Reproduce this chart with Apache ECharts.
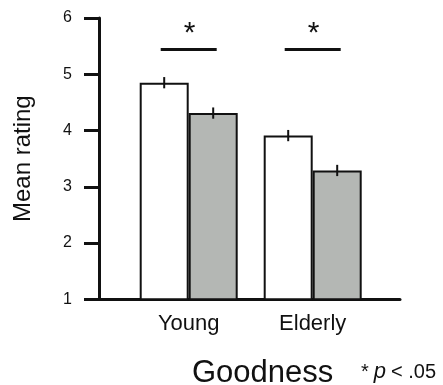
<!DOCTYPE html>
<html>
<head>
<meta charset="utf-8">
<script src="https://cdn.jsdelivr.net/npm/echarts@6/dist/echarts.min.js"></script>
<style>html,body{margin:0;padding:0;background:#fff;}#c{width:443px;height:385px;}</style>
</head>
<body>
<div id="c"></div>
<script>
var categories = ['Young', 'Elderly'];
var whiteValues = [4.85, 3.91];
var greyValues = [4.31, 3.29];
var whiteErrors = [0.1, 0.1];
var greyErrors = [0.1, 0.1];
var sigLevel = [5.44, 5.44];
var starLevel = [5.72, 5.72];
var yTicks = [1, 2, 3, 4, 5, 6];

var FONT = 'Liberation Sans';
var BAR_W = 49;
var INK = '#111';

var chart = echarts.init(document.getElementById('c'));

function errItem(errs, side) {
  return function (params, api) {
    var i = api.value(0);
    var v = api.value(1);
    var e = errs[params.dataIndex];
    var top = api.coord([i, v + e]);
    var bot = api.coord([i, v - e]);
    var dx = side * BAR_W / 2;
    return {
      type: 'line',
      shape: { x1: top[0] + dx, y1: top[1], x2: bot[0] + dx, y2: bot[1] },
      style: { stroke: INK, lineWidth: 2 }
    };
  };
}

var option = {
  animation: false,
  backgroundColor: '#fff',
  textStyle: { fontFamily: FONT },
  grid: [
    { left: 99, right: 43, top: 18, bottom: 85.7 },
    { left: 126.7, right: 68.3, top: 18, bottom: 85.7 }
  ],
  xAxis: [
    {
      gridIndex: 0, type: 'value', min: 0, max: 1,
      axisLine: { show: true, onZero: false, lineStyle: { color: INK, width: 3 } },
      axisTick: { show: false }, axisLabel: { show: false }, splitLine: { show: false }
    },
    {
      gridIndex: 1, type: 'category', data: categories,
      axisLine: { show: false }, axisTick: { show: false }, splitLine: { show: false },
      axisLabel: { fontSize: 22, color: '#111', margin: 14, fontFamily: FONT }
    }
  ],
  yAxis: [
    {
      gridIndex: 0, type: 'value', min: yTicks[0], max: yTicks[yTicks.length - 1], interval: 1,
      name: 'Mean rating', nameLocation: 'middle', nameGap: 64,
      nameTextStyle: { fontSize: 24, color: '#111', fontFamily: FONT },
      axisLine: { show: true, lineStyle: { color: INK, width: 3 } },
      axisTick: { show: true, length: 15, lineStyle: { color: INK, width: 3 } },
      axisLabel: { fontSize: 16, color: '#111', margin: 27, fontFamily: FONT },
      splitLine: { show: false }
    },
    {
      gridIndex: 1, type: 'value', min: yTicks[0], max: yTicks[yTicks.length - 1], interval: 1,
      show: false
    }
  ],
  title: [
    { text: 'Goodness', left: 192, top: 358, padding: 0, textStyle: { fontSize: 31, fontWeight: 'normal', color: '#111', fontFamily: FONT } },
    {
      text: '{a|*} {b|p} {a|< .05}', left: 361, top: 361, padding: 0,
      textStyle: {
        fontWeight: 'normal',
        rich: {
          a: { fontSize: 20, color: '#111', fontWeight: 'normal', fontFamily: FONT },
          b: { fontSize: 22, color: '#111', fontWeight: 'normal', fontStyle: 'italic', fontFamily: FONT }
        }
      }
    }
  ],
  series: [
    {
      type: 'bar', xAxisIndex: 1, yAxisIndex: 1, data: whiteValues,
      barWidth: BAR_W, barGap: '0%',
      itemStyle: { color: '#ffffff', borderColor: INK, borderWidth: 2 }
    },
    {
      type: 'bar', xAxisIndex: 1, yAxisIndex: 1, data: greyValues,
      barWidth: BAR_W, barGap: '0%',
      itemStyle: { color: '#b4b7b4', borderColor: INK, borderWidth: 2 }
    },
    {
      type: 'custom', xAxisIndex: 1, yAxisIndex: 1,
      data: whiteValues.map(function (v, i) { return [i, v]; }),
      renderItem: errItem(whiteErrors, -1), z: 5
    },
    {
      type: 'custom', xAxisIndex: 1, yAxisIndex: 1,
      data: greyValues.map(function (v, i) { return [i, v]; }),
      renderItem: errItem(greyErrors, 1), z: 5
    },
    {
      type: 'custom', xAxisIndex: 1, yAxisIndex: 1,
      data: sigLevel.map(function (v, i) { return [i, v, starLevel[i]]; }),
      renderItem: function (params, api) {
        var p = api.coord([api.value(0), api.value(1)]);
        var s = api.coord([api.value(0), api.value(2)]);
        return {
          type: 'group',
          children: [
            { type: 'line', shape: { x1: p[0] - 28, y1: p[1], x2: p[0] + 28, y2: p[1] }, style: { stroke: INK, lineWidth: 3 } },
            { type: 'text', x: s[0] + 1, y: s[1], style: { text: '*', fontSize: 30, fontFamily: FONT, fill: INK, align: 'center', verticalAlign: 'middle' } }
          ]
        };
      }
    }
  ]
};
chart.setOption(option);
</script>
</body>
</html>
